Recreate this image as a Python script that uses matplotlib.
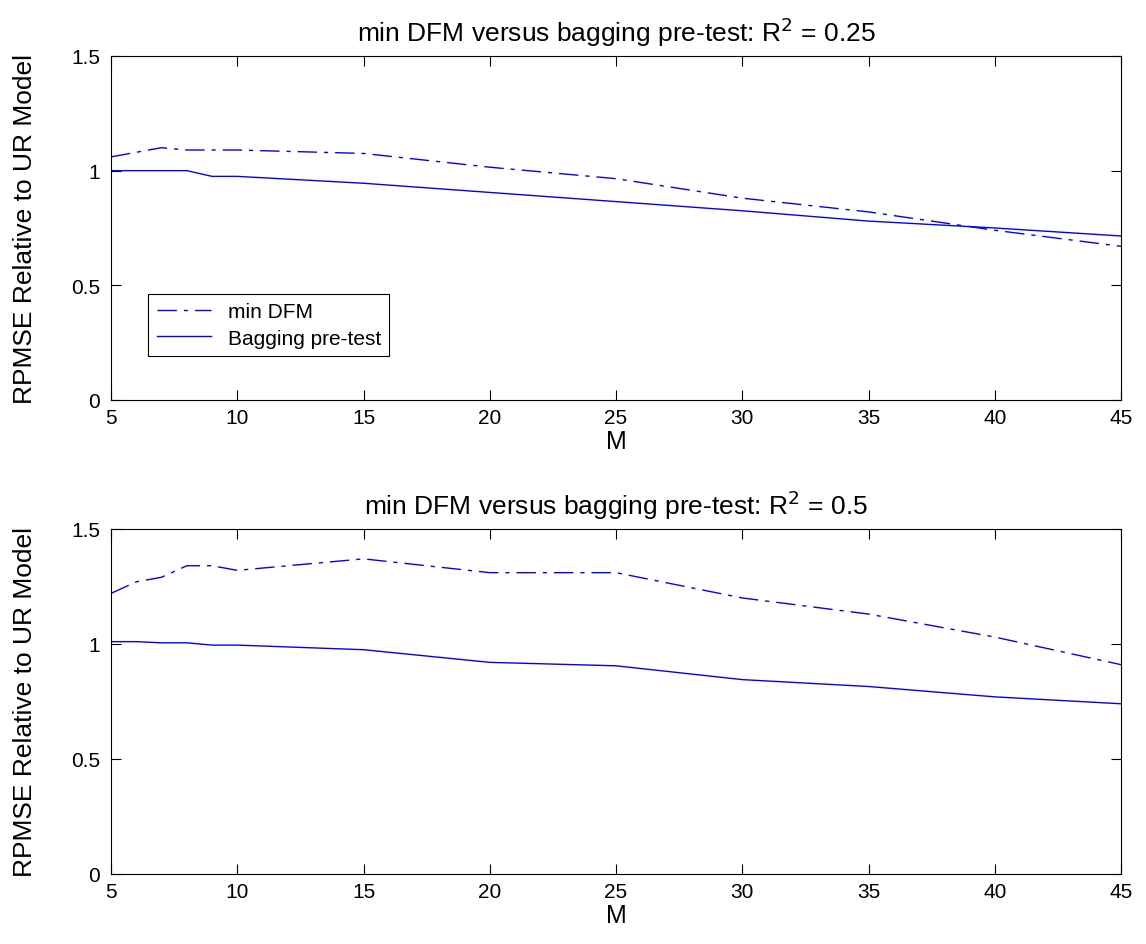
import matplotlib
matplotlib.use("Agg")
import matplotlib.pyplot as plt

plt.rcParams['font.family'] = ['Liberation Sans', 'DejaVu Sans']

M = [5, 6, 7, 8, 9, 10, 15, 20, 25, 30, 35, 40, 45]

# R^2 = 0.25
dfm_025 = [1.06, 1.08, 1.10, 1.09, 1.09, 1.09, 1.075, 1.015, 0.965, 0.88, 0.82, 0.74, 0.67]
bag_025 = [1.00, 1.00, 1.00, 1.00, 0.975, 0.975, 0.945, 0.905, 0.865, 0.825, 0.78, 0.75, 0.715]

# R^2 = 0.5
dfm_05 = [1.22, 1.27, 1.29, 1.34, 1.34, 1.32, 1.37, 1.31, 1.31, 1.20, 1.13, 1.03, 0.91]
bag_05 = [1.01, 1.01, 1.005, 1.005, 0.995, 0.995, 0.975, 0.92, 0.905, 0.845, 0.815, 0.77, 0.74]

titles = ['min DFM versus bagging pre-test: R$^2$ = 0.25',
          'min DFM versus bagging pre-test: R$^2$ = 0.5']

fig = plt.figure(figsize=(11.46, 9.45), dpi=100)
ax1 = fig.add_axes([0.0969, 0.5757, 0.8813, 0.364])
ax2 = fig.add_axes([0.0969, 0.0741, 0.8813, 0.3651])

dashdot = (0, (14, 5, 3, 5))
for ax, dfm, bag, title in [(ax1, dfm_025, bag_025, titles[0]),
                            (ax2, dfm_05, bag_05, titles[1])]:
    ax.plot(M, dfm, color='blue', linestyle=dashdot, linewidth=1.0, label='min DFM')
    ax.plot(M, bag, color='blue', linestyle='-', linewidth=1.0, label='Bagging pre-test')
    ax.set_xlim(5, 45)
    ax.set_ylim(0, 1.5)
    ax.set_xticks(range(5, 46, 5))
    ax.set_yticks([0, 0.5, 1, 1.5])
    ax.set_yticklabels(['0', '0.5', '1', '1.5'])
    ax.tick_params(direction='in', top=True, right=True, labelsize=15, length=7, width=0.8)
    ax.tick_params(axis='y', pad=8)
    ax.tick_params(axis='x', pad=6)
    ax.set_xlabel('M', fontsize=18, labelpad=1)
    ax.set_ylabel('RPMSE Relative to UR Model', fontsize=19)
    ax.yaxis.set_label_coords(-0.073, 0.5)
    ax.set_title(title, fontsize=19, pad=11)
    for s in ax.spines.values():
        s.set_linewidth(0.8)

leg = ax1.legend(loc='lower left', bbox_to_anchor=(0.037, 0.128), fontsize=15,
                 frameon=True, fancybox=False, edgecolor='black', framealpha=1,
                 handlelength=2.6, borderpad=0.4, labelspacing=0.35,
                 handletextpad=0.8, borderaxespad=0)
leg.get_frame().set_linewidth(0.8)

fig.savefig('out.png', dpi=100)
